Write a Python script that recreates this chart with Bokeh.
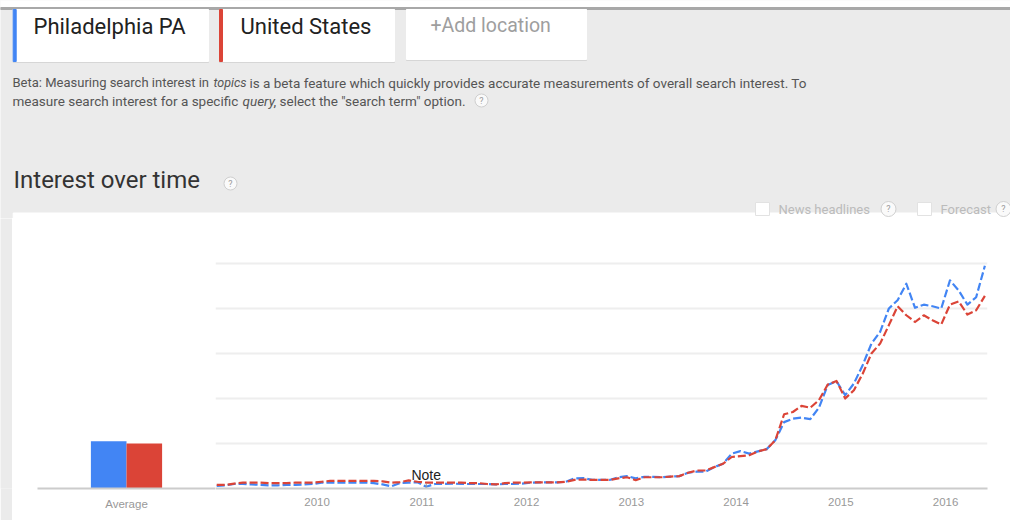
import pandas as pd
from bokeh.plotting import figure
from bokeh.layouts import column, row
from bokeh.models import Range1d, FactorRange, FixedTicker, ColumnDataSource, Grid
from bokeh.transform import dodge
from bokeh.core.properties import value
from bokeh.embed import file_html
from bokeh.resources import INLINE

# ---------------- data ----------------
locations = ["Philadelphia PA", "United States"]
series_colors = ["#4285f4", "#db4437"]
add_label = "+Add location"
beta_line1 = ["Beta: Measuring search interest in", "topics",
              "is a beta feature which quickly provides accurate measurements of overall search interest. To"]
beta_line2 = ["measure search interest for a specific", "query", ", select the \"search term\" option."]
section_title = "Interest over time"
option_labels = ["News headlines", "Forecast"]

avg_category = ["Average"]
avg_philly = [21]
avg_us = [20]

start_month = "2009-01"
n_months = 89
philly = [1.2, 1.4, 2.0, 2.0, 1.8, 1.6, 1.4, 1.4, 1.6, 1.6, 1.8, 2.0,
          2.6, 2.6, 2.6, 2.6, 2.6, 2.6, 2.4, 1.8, 1.0, 2.4, 2.6, 2.8,
          0.8, 2.0, 2.0, 2.2, 2.0, 2.0, 2.0, 2.0, 1.8, 2.0, 2.0, 2.2,
          2.6, 2.7, 2.7, 2.7, 3.0, 4.5, 4.6, 3.8, 3.8, 3.8, 5.0, 5.5,
          4.5, 5.2, 5.2, 5.0, 5.3, 5.5, 7.0, 7.5, 7.5, 9.5, 11.0, 15.5,
          16.6, 15.5, 16.5, 17.5, 21.5, 29.5, 31.0, 31.5, 30.8, 36.0, 46.0, 47.7,
          41.5, 46.7, 54.8, 64.4, 69.6, 80.0, 83.7, 91.0, 80.3, 81.7, 81.0, 80.0,
          92.5, 88.0, 81.7, 85.0, 99.0]
us = [1.6, 1.6, 2.2, 2.6, 2.6, 2.6, 2.4, 2.4, 2.4, 2.6, 2.6, 2.6,
      3.0, 3.4, 3.4, 3.4, 3.4, 3.4, 3.4, 3.2, 2.6, 2.8, 3.6, 3.0,
      2.6, 2.6, 2.6, 2.6, 2.6, 2.4, 2.4, 2.0, 1.8, 2.4, 2.6, 2.6,
      2.7, 2.7, 2.7, 2.7, 3.0, 3.8, 4.0, 3.8, 3.8, 3.8, 4.5, 5.0,
      3.7, 5.0, 5.0, 5.0, 5.3, 5.5, 7.0, 8.0, 8.0, 9.5, 11.0, 14.0,
      14.4, 14.8, 16.5, 17.5, 21.5, 33.0, 34.0, 36.7, 35.9, 39.3, 46.2, 47.8,
      40.0, 43.7, 51.0, 60.0, 64.4, 72.6, 81.0, 77.0, 74.0, 77.0, 74.8, 72.9,
      81.7, 83.2, 77.3, 79.2, 85.6]
year_ticks = [2010, 2011, 2012, 2013, 2014, 2015, 2016]
grid_values = [20, 40, 60, 80, 100]
note_month = "2011-01"
note_text = "Note"

months = pd.date_range(start_month, periods=n_months, freq="MS")
t = [m.year + (m.month - 0.5) / 12 for m in months]
nm = pd.Timestamp(note_month)
note_t = nm.year + (nm.month - 0.5) / 12

BG = "#ebebeb"
FONT = value("Roboto")
AX_FONT = value("Liberation Sans")
W, H = 1010, 520
HDR_H = 218
ROW_H = H - HDR_H

# ---------------- header ----------------
hdr = figure(width=W, height=HDR_H, x_range=Range1d(0, W), y_range=Range1d(HDR_H, 0),
             output_backend="svg", toolbar_location=None, min_border=0,
             x_axis_location=None, y_axis_location=None)
hdr.grid.visible = False
hdr.outline_line_color = None
hdr.background_fill_color = BG
hdr.border_fill_color = BG

# top white strip + rule
hdr.quad(left=[0], right=[W], top=[0], bottom=[7], color="white")
hdr.quad(left=[0], right=[W], top=[7], bottom=[9], color="#a8a8a8")
# location boxes
box_left = [12.7, 219, 406]
box_right = [208, 394, 586]
hdr.quad(left=box_left, right=box_right, top=[9, 9, 9], bottom=[62, 62, 60], color="#d6d6d6")
hdr.quad(left=box_left, right=box_right, top=[9, 9, 9], bottom=[61, 61, 59], color="white")
hdr.quad(left=box_left[:2], right=[b + 3 for b in box_left[:2]], top=[9, 9], bottom=[61, 61],
         color=series_colors)
hdr.text(x=[33, 240], y=[26, 26], text=locations, text_font=FONT, text_font_size="22px",
         text_color="#212121", text_baseline="middle")
hdr.text(x=[430], y=[25], text=[add_label], text_font=FONT, text_font_size="19.5px",
         text_color="#9e9e9e", text_baseline="middle")
# beta text
hdr.text(x=[12, 213, 249], y=[82] * 3, text=beta_line1, text_font=FONT,
         text_font_size=["13px", "12.5px", "13.5px"],
         text_color="#555555", text_baseline="middle",
         text_font_style=["normal", "italic", "normal"])
hdr.text(x=[12, 242, 273], y=[100] * 3, text=beta_line2, text_font=FONT,
         text_font_size=["13.5px", "13.5px", "13.5px"],
         text_color="#555555", text_baseline="middle",
         text_font_style=["normal", "italic", "normal"])
# title
hdr.text(x=[13], y=[179], text=[section_title], text_font=FONT, text_font_size="24px",
         text_color="#333333", text_baseline="middle")
# white panel top
hdr.quad(left=[12.7], right=[W], top=[212.5], bottom=[HDR_H], color="white")
# checkboxes
hdr.quad(left=[755, 917], right=[769, 931], top=[202, 202], bottom=[215, 215],
         fill_color="white", line_color="#e2e2e2")
hdr.text(x=[778, 940], y=[208.5, 208.5], text=option_labels, text_font=FONT,
         text_font_size="13px", text_color="#bbbbbb", text_baseline="middle")
# help circles
qx = [481, 230, 888, 1003]
qy = [100, 183, 208.5, 208.5]
hdr.scatter(x=qx, y=qy, size=[13, 13, 15, 15], marker="circle", fill_color="#fafafa",
            line_color="#cfcfcf")
hdr.text(x=qx, y=qy, text=["?"] * 4, text_font=FONT, text_font_size="9px", text_color="#9a9a9a",
         text_align="center", text_baseline="middle")

# ---------------- left grey strip ----------------
strip = figure(width=12, height=ROW_H, output_backend="svg", toolbar_location=None,
               min_border=0, x_axis_location=None, y_axis_location=None)
strip.grid.visible = False
strip.outline_line_color = None
strip.background_fill_color = BG
strip.border_fill_color = BG

# ---------------- average bars ----------------
avg = figure(width=203, height=ROW_H, x_range=FactorRange(factors=avg_category),
             y_range=Range1d(0, 120), output_backend="svg", toolbar_location=None,
             min_border_left=25, min_border_right=0, min_border_top=0, min_border_bottom=32,
             y_axis_location=None)
avg.grid.visible = False
avg.outline_line_color = None
avg.background_fill_color = "white"
avg.border_fill_color = "white"
asrc = ColumnDataSource(dict(cat=avg_category, philly=avg_philly, us=avg_us))
avg.vbar(x=dodge("cat", -0.1, range=avg.x_range), top="philly", width=0.2, source=asrc,
         fill_color=series_colors[0], line_color=None)
avg.vbar(x=dodge("cat", 0.1, range=avg.x_range), top="us", width=0.2, source=asrc,
         fill_color=series_colors[1], line_color=None)
ax = avg.xaxis[0]
ax.axis_line_color = "#cccccc"
ax.axis_line_width = 2
ax.major_tick_line_color = None
ax.minor_tick_line_color = None
ax.major_label_text_font = "Liberation Sans"
ax.major_label_text_font_size = "11.5px"
ax.major_label_text_color = "#999999"
ax.major_label_standoff = 3

# ---------------- time series ----------------
p = figure(width=795, height=ROW_H, x_range=Range1d(2009.03, 2016.4), y_range=Range1d(0, 120),
           output_backend="svg", toolbar_location=None,
           min_border_left=0, min_border_right=23, min_border_top=0, min_border_bottom=32,
           y_axis_location=None)
p.grid.visible = False
p.outline_line_color = None
p.background_fill_color = "white"
p.border_fill_color = "white"
p.add_layout(Grid(dimension=1, ticker=FixedTicker(ticks=grid_values),
                  grid_line_color="#eeeeee", grid_line_width=2))
src = ColumnDataSource(dict(t=t, philly=philly, us=us))
p.line("t", "philly", source=src, line_color=series_colors[0], line_width=2.2,
       line_dash="8 3", line_join="round")
p.line("t", "us", source=src, line_color=series_colors[1], line_width=2.2,
       line_dash="8 3", line_join="round")
p.segment(x0=[note_t], y0=[0], x1=[note_t], y1=[2.2], line_color="#999999", line_width=1)
p.text(x=[note_t], y=[5.8], text=[note_text], text_font=AX_FONT, text_font_size="14px",
       text_color="#222222", text_align="center", text_baseline="middle")
xa = p.xaxis[0]
xa.ticker = FixedTicker(ticks=year_ticks)
xa.axis_line_color = "#cccccc"
xa.axis_line_width = 2
xa.major_tick_line_color = None
xa.minor_tick_line_color = None
xa.major_label_text_font = "Liberation Sans"
xa.major_label_text_font_size = "11.5px"
xa.major_label_text_color = "#999999"
xa.major_label_standoff = 3

layout = column(hdr, row(strip, avg, p, spacing=0), spacing=0)
open("out.html", "w").write(file_html(layout, INLINE))
